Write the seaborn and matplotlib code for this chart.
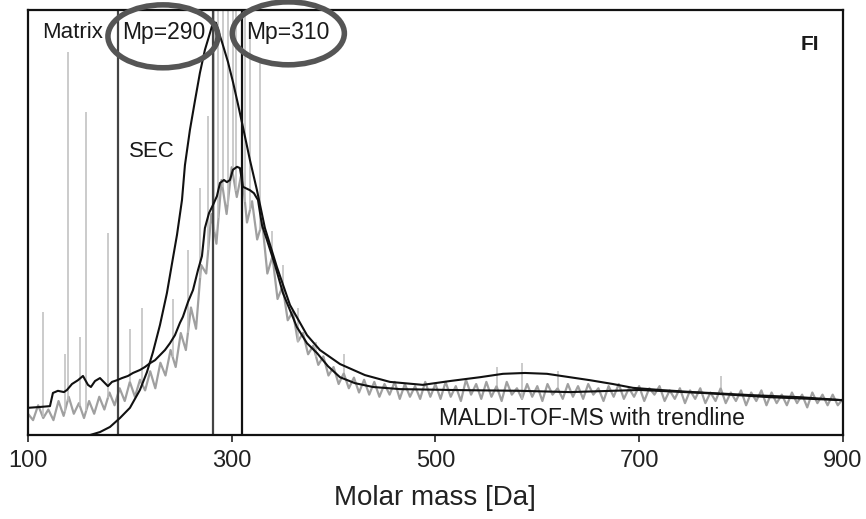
import numpy as np
import pandas as pd
import matplotlib
matplotlib.use("Agg")
import matplotlib.pyplot as plt
from matplotlib.patches import Ellipse
import seaborn as sns

# Datos (masa en Da, intensidad relativa 0-100)
sec_mass = [160.9, 170.7, 180.5, 190.3, 200.1, 209.9, 216.8, 222.7, 229.6, 236.4,
            242.3, 246.3, 251.2, 254.1, 259.0, 263.9, 268.8, 273.7, 278.7, 281.6,
            284.5, 287.5, 290.4, 296.3, 301.2, 306.1, 311.0, 317.9, 324.8, 332.6,
            344.4, 357.2, 373.9, 386.6, 406.3, 430.8, 455.3, 487.7, 514.2, 543.7,
            566.3, 587.9, 609.5, 632.0, 651.7, 674.2, 693.9, 720.4, 752.8, 808.7,
            857.8, 900.0]
sec_int = [0.0, 0.7, 1.9, 4.0, 6.4, 10.6, 14.8, 19.5, 25.9, 33.4,
           41.6, 47.1, 55.3, 63.5, 71.8, 78.6, 85.2, 90.6, 94.6, 97.0,
           97.0, 94.6, 92.5, 87.8, 83.1, 77.9, 72.5, 64.7, 57.6, 48.7,
           39.5, 30.6, 23.5, 20.0, 16.7, 14.1, 12.5, 11.8, 12.7, 13.6,
           14.4, 14.6, 14.4, 13.6, 12.9, 12.0, 11.1, 10.6, 10.1, 9.4,
           8.9, 8.2]

trend_mass = [100.0, 111.8, 121.6, 124.5, 129.4, 135.3, 138.3, 143.2, 149.1, 154.0,
              158.9, 161.8, 165.8, 170.7, 175.6, 178.5, 182.5, 187.4, 192.3, 198.2,
              203.1, 209.9, 214.8, 219.8, 224.7, 229.6, 234.5, 239.4, 244.3, 249.2,
              252.1, 257.1, 262.0, 266.9, 270.8, 273.7, 277.7, 281.6, 285.5, 288.5,
              292.4, 295.3, 298.3, 301.2, 305.2, 308.1, 311.0, 317.9, 321.8, 325.8,
              329.7, 334.6, 342.5, 350.3, 357.2, 364.0, 373.9, 383.7, 394.5, 406.3,
              421.0, 438.7, 465.2, 514.2, 582.9, 632.0, 700.7, 762.6, 828.3, 900.0]
trend_int = [6.4, 6.6, 6.8, 9.9, 10.4, 10.1, 10.6, 12.0, 12.9, 13.9,
             11.8, 11.3, 12.7, 13.4, 12.2, 11.5, 12.5, 12.9, 13.4, 13.9,
             14.6, 15.3, 16.0, 16.9, 17.6, 18.8, 20.0, 21.6, 23.5, 26.4,
             27.8, 31.3, 34.1, 38.8, 42.1, 48.7, 52.2, 54.1, 56.2, 59.3,
             60.0, 59.5, 60.0, 62.4, 63.1, 62.8, 58.4, 57.6, 56.9, 55.3,
             49.4, 45.9, 40.0, 33.4, 29.4, 25.4, 21.6, 19.3, 16.2, 13.6,
             12.2, 11.3, 10.8, 10.6, 10.4, 10.1, 10.6, 9.9, 8.9, 8.2]

# espectro MALDI crudo, cada 5 Da de 100 a 900
raw_mass = list(range(100, 905, 5))
raw_int = [5, 3.5, 7, 4, 6, 3.5, 8, 4.5, 9, 5,
           7.5, 4, 8, 5, 9, 6, 10, 7, 11, 8,
           12.5, 9, 13, 10.5, 15, 11, 17, 14, 20, 16,
           24, 20, 30, 25, 40, 38, 52, 45, 60, 52,
           63, 56, 62, 50, 55, 46, 50, 38, 42, 32,
           35, 27, 29, 22, 24, 19, 21, 16.5, 18.5, 14,
           16, 12, 14.5, 11, 13.5, 10, 13, 9.5, 12.5, 9,
           12, 9.5, 12.5, 8.5, 12, 9, 11.5, 8.5, 12.5, 9,
           12,
           8.5, 12.5, 9, 11.5, 8, 13, 9.5, 12, 8.5, 12.5,
           9, 11.5, 8, 12.5, 9.5, 11, 8.5, 12, 9, 11.5,
           8, 12, 9.5, 11, 8.5, 12, 9, 11.5, 8.5, 12,
           9.5, 11, 8, 11.5, 9, 12, 8.5, 11, 9, 11.5,
           8, 11, 9.5, 11.5, 8, 10.5, 8.5, 11, 7.5, 10.5,
           8.5, 11, 7.5, 10, 8, 11, 7.5, 10, 8, 10.5,
           7, 10, 8, 10.5, 7, 10, 7.5, 9.5, 7, 10,
           7.5, 9.5, 6.5, 10, 7.5, 9.5, 7, 9.5, 7, 8.5]

# picos altos del espectro crudo
spike_mass = [114.7, 136, 139, 151, 157, 178.5, 200, 212, 242, 257, 269, 277,
              283, 287, 291, 296, 301, 304, 313, 318, 327.7, 339.5, 350, 365,
              383, 410, 560, 585, 620, 780]
spike_top = [29, 19, 90, 23, 76, 47.5, 25, 30, 32, 43.5, 58, 75,
             100, 100, 100, 100, 100, 100, 100, 95, 88, 48, 40, 30,
             22, 19, 16, 17, 15, 14]

matrix_cut = 188.3
mp_lines = [281.6, 310.0]
mp_labels = ["Mp=290", "Mp=310"]
mp_label_pos = [233.5, 355.2]

sns.set_theme(style="ticks")
plt.rcParams['font.family'] = ['Liberation Sans', 'DejaVu Sans']

df_sec = pd.DataFrame({"mass": sec_mass, "intensity": sec_int})
df_trend = pd.DataFrame({"mass": trend_mass, "intensity": trend_int})
df_raw = pd.DataFrame({"mass": raw_mass, "intensity": raw_int})

fig = plt.figure(figsize=(8.66, 5.19), dpi=100)
ax = fig.add_axes([0.0323, 0.1618, 0.941, 0.819])

# espectro crudo en gris
sns.lineplot(data=df_raw, x="mass", y="intensity", ax=ax, color="#a0a0a0",
             lw=1.6, estimator=None, zorder=1)
base = np.interp(spike_mass, raw_mass, raw_int)
ax.vlines(spike_mass, base, spike_top, color="#bdbdbd", lw=1.1, zorder=1)

# lineas verticales
ax.axvline(matrix_cut, color="#444444", lw=1.6, zorder=2)
ax.axvline(mp_lines[0], color="#444444", lw=1.6, zorder=2)
ax.axvline(mp_lines[1], color="#111111", lw=1.6, zorder=2)

# curvas SEC y tendencia
sns.lineplot(data=df_trend, x="mass", y="intensity", ax=ax, color="#111111",
             lw=1.5, estimator=None, zorder=3)
sns.lineplot(data=df_sec, x="mass", y="intensity", ax=ax, color="#111111",
             lw=1.5, estimator=None, zorder=3)

ax.set_xlim(100, 900)
ax.set_ylim(0, 100)
ax.set_xticks([100, 300, 500, 700, 900])
ax.set_yticks([])
ax.tick_params(axis="x", direction="out", length=5, width=1.2, labelsize=17,
               pad=6, colors="#222222")
ax.set_xlabel("Molar mass [Da]", fontsize=20, labelpad=9, color="#222222")
ax.set_ylabel("")
for s in ax.spines.values():
    s.set_visible(True)
    s.set_linewidth(1.6)
    s.set_color("#111111")

# textos
ax.text(113.7, 94.8, "Matrix", fontsize=16, ha="left", va="center", color="#1a1a1a")
for lab, xp in zip(mp_labels, mp_label_pos):
    ax.text(xp, 94.8, lab, fontsize=16.5, ha="center", va="center", color="#1a1a1a")
ax.text(221.7, 66.6, "SEC", fontsize=16, ha="center", va="center", color="#1a1a1a")
ax.text(653.6, 3.8, "MALDI-TOF-MS with trendline", fontsize=16.5, ha="center",
        va="center", color="#1a1a1a")
ax.text(867.6, 91.8, "FI", fontsize=15, fontweight="bold", ha="center",
        va="center", color="#1a1a1a")

# elipses alrededor de Mp
ax.add_patch(Ellipse((232.5, 93.8), 108, 14.8, fill=False, edgecolor="#555555",
                     lw=4, clip_on=False, zorder=5))
ax.add_patch(Ellipse((355.6, 94.5), 110, 14.8, fill=False, edgecolor="#555555",
                     lw=4, clip_on=False, zorder=5))

fig.savefig("out.png", dpi=100)
